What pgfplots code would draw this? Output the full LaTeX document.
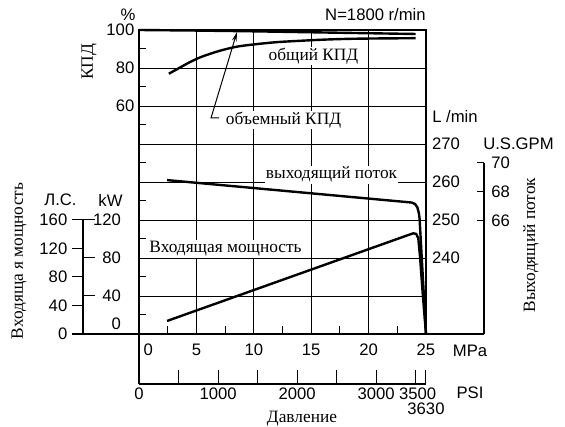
\documentclass[border=0pt]{standalone}
\usepackage{fontspec}
\setmainfont{Liberation Sans}
\newfontfamily\ser{Liberation Serif}
\usepackage{pgfplots}
\pgfplotsset{compat=1.18}
\usetikzlibrary{arrows.meta}
\newcommand{\sz}{\fontsize{12.5}{14}\selectfont}
\newcommand{\szs}{\fontsize{13}{15}\selectfont}
\pgfplotsset{
  base/.style={scale only axis, clip=false,
    /pgf/number format/assume math mode=true,
    tick label style={font=\sz},
    every tick/.style={black, line width=0.75pt}},
}
\begin{document}
\begin{tikzpicture}
\useasboundingbox (-104.25pt,-69.75pt) rectangle (319.5pt,250.5pt);

% main axis: output flow (L/min), grid and frame
\begin{axis}[base, at={(0pt,0pt)}, anchor=south west,
  width=215.25pt, height=228pt,
  xmin=0, xmax=25, ymin=220, ymax=300,
  xtick={0,5,...,25}, xticklabels={\phantom{00}0,5,10,15,20,25},
  minor xtick={2.5,7.5,...,22.5},
  ytick={230,240,...,290}, yticklabels={,240,250,260,270,,},
  yticklabel pos=right, xtick pos=left, ytick pos=right,
  tick align=inside, major tick length=0pt, minor tick length=6pt,
  grid=major, major grid style={black, line width=0.7pt},
  axis line style={line width=0.8pt},
  xticklabel style={yshift=-4pt},
  yticklabel style={xshift=1pt},
]
\addplot[line width=1.8pt] coordinates {(2.44,260.5) (23.75,254.6) (24.05,254.2) (24.25,253.3) (24.38,251.8) (24.44,250.4) (25,220)};
\end{axis}

% efficiency axis
\begin{axis}[base, at={(0pt,0pt)}, anchor=south west,
  width=215.25pt, height=228pt,
  xmin=0, xmax=25, ymin=-60, ymax=100,
  hide x axis, axis y line*=left, axis line style={-, line width=2pt},
  ytick={60,80,100}, minor ytick={-50,-30,...,90},
  ytick pos=left, tick align=inside, major tick length=0pt, minor tick length=5pt,
]
\addplot[line width=1.8pt] coordinates {(0,100) (5,99.7) (10,99.3) (15,98.8) (20,98.3) (24.1,97.9)};
\addplot[line width=1.8pt, smooth] coordinates {(2.6,77) (3.5,80) (4.5,83.3) (5.5,86) (7,89) (8.5,91.2) (10,92.4) (12,93.6) (14,94.3) (16,94.9) (18,95.3) (20,95.5) (22,95.6) (24.1,95.7)};
\end{axis}

% input power axis (kW), hidden
\begin{axis}[base, at={(0pt,0pt)}, anchor=south west,
  width=215.25pt, height=228pt,
  xmin=0, xmax=25, ymin=0, ymax=320, hide axis]
\addplot[line width=1.8pt] coordinates {(2.44,13.7) (23.3,103.5) (23.9,106) (24.15,105.3) (24.33,100.7) (24.48,81.4) (24.71,43.2) (25,0)};
\end{axis}

% kW scale
\begin{axis}[base, at={(-42pt,0pt)}, anchor=south west,
  width=10pt, height=85.5pt, xmin=0, xmax=1, ymin=0, ymax=120,
  hide x axis, axis y line*=left, axis line style={-, line width=2pt},
  ytick={40,80,120}, ytick pos=left,
  tick align=inside, major tick length=9pt,
  yticklabel style={anchor=east, xshift=32pt},
  extra y ticks={0}, extra y tick labels={0},
  extra y tick style={yticklabel style={yshift=7.5pt}},
]
\addplot[draw=none] coordinates {(0,0)};
\end{axis}

% HP scale
\begin{axis}[base, at={(-42pt,0pt)}, anchor=south west,
  width=10pt, height=85.5pt, xmin=0, xmax=1, ymin=0, ymax=160,
  hide x axis, axis y line*=left, axis line style={-, line width=2pt},
  ytick={0,40,...,160}, ytick pos=left,
  tick align=outside, major tick length=8.25pt,
]
\addplot[draw=none] coordinates {(0,0)};
\end{axis}

% U.S.GPM scale
\begin{axis}[base, at={(258.75pt,0pt)}, anchor=south east,
  width=10pt, height=128.25pt, xmin=0, xmax=1, ymin=58.118, ymax=70,
  hide x axis, axis y line*=right, axis line style={-, line width=2pt},
  ytick={66,68,70}, ytick pos=right, yticklabel pos=right,
  tick align=inside, major tick length=5.25pt,
  yticklabel style={xshift=2pt},
]
\addplot[draw=none] coordinates {(0,60)};
\end{axis}

% PSI scale
\begin{axis}[base, at={(0pt,-37.5pt)}, anchor=south west,
  width=215.25pt, height=10pt, xmin=0, xmax=3630, ymin=0, ymax=1,
  hide y axis, axis x line*=bottom, axis line style={-, line width=2pt},
  xtick={0,500,...,3500}, xticklabels={0,,1000,,2000,,3000,\hspace*{3pt}3500},
  xtick pos=left, tick align=inside, major tick length=10.5pt,
  xticklabel style={yshift=1pt},
  extra x ticks={3630}, extra x tick labels={3630},
  extra x tick style={xticklabel style={yshift=-11.5pt}},
]
\addplot[draw=none] coordinates {(0,0)};
\end{axis}

\draw[line width=2pt] (0pt,-37.5pt) -- (0pt,228pt);
\draw[line width=2pt] (-50.25pt,0pt) -- (258.75pt,0pt);

\node[font=\sz] at (-8.25pt,239.25pt) {\%};
\node[font=\szs\ser, rotate=90] at (-37.5pt,204pt) {КПД};
\node[font=\sz, anchor=east, inner sep=0pt] at (215.25pt,239.25pt) {N=1800 r/min};
\node[font=\szs\ser, fill=white, inner sep=1pt] at (130.9pt,208.5pt) {общий КПД};
\node[font=\szs\ser, fill=white, inner sep=1pt] at (108.4pt,160.5pt) {объемный КПД};
\draw[line width=0.75pt, -{Stealth[length=7pt,width=3.5pt]}] (60pt,162pt) -- (54pt,162pt) -- (73.5pt,226.5pt);
\node[font=\szs\ser, fill=white, inner sep=1pt, anchor=base] at (144.4pt,116.25pt) {выходящий поток};
\node[font=\szs\ser, fill=white, inner sep=1pt, anchor=base] at (64.9pt,60.75pt) {Входящая мощность};
\node[font=\sz] at (-58.9pt,100.5pt) {Л.С.};
\node[font=\sz] at (-21.4pt,100.5pt) {kW};
\node[font=\szs\ser, rotate=90] at (-90pt,54.75pt) {Входяща я мощность};
\node[font=\sz, anchor=west, inner sep=0pt] at (219.75pt,162.75pt) {L /min};
\node[font=\sz, anchor=west, inner sep=0pt] at (258pt,142.5pt) {U.S.GPM};
\node[font=\szs\ser, rotate=90] at (294pt,66.75pt) {Выходящий поток};
\node[font=\sz] at (248.25pt,-12.75pt) {MPa};
\node[font=\sz] at (248.25pt,-44.25pt) {PSI};
\node[font=\szs\ser] at (122.25pt,-63.5pt) {Давление};
\end{tikzpicture}
\end{document}
